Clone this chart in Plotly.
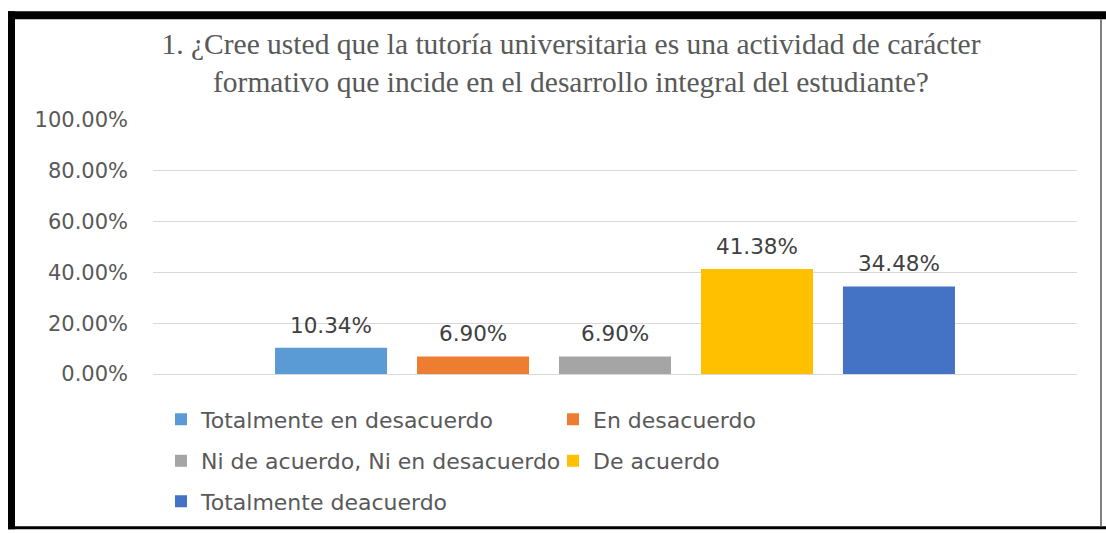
import plotly.graph_objects as go

# ---- data ----
categories = [
    "Totalmente en desacuerdo",
    "En desacuerdo",
    "Ni de acuerdo, Ni en desacuerdo",
    "De acuerdo",
    "Totalmente deacuerdo",
]
values = [0.1034, 0.0690, 0.0690, 0.4138, 0.3448]
colors = ["#5B9BD5", "#ED7D31", "#A5A5A5", "#FFC000", "#4472C4"]
legend_ids = ["legend", "legend", "legend2", "legend2", "legend3"]
y_ticks = [0, 0.2, 0.4, 0.6, 0.8, 1.0]
title_text = ("1. ¿Cree usted que la tutoría universitaria es una actividad de carácter<br>"
              "formativo que incide en el desarrollo integral del estudiante?")

W, H = 1106, 534
ML, MR, MT, MB = 153, 29, 120, 157
PW = W - ML - MR
PH = H - MT - MB


def px_x(px):
    return (px - ML) / PW


def px_y(py):
    return (H - MB - py) / PH


fig = go.Figure()
for name, v, c, lg in zip(categories, values, colors, legend_ids):
    fig.add_trace(go.Bar(
        x=[name], y=[v], name=name, marker=dict(color=c, line=dict(width=0)),
        legend=lg, hoverinfo="x+y",
    ))
    fig.add_annotation(
        x=name, y=v, text=f"{v*100:.2f}%", showarrow=False,
        yanchor="bottom", yshift=8,
        font=dict(family="DejaVu Sans", size=21.5, color="#404040"),
    )

legend_common = dict(
    orientation="h", xanchor="left", yanchor="middle",
    font=dict(family="DejaVu Sans", size=22, color="#595959"),
    bgcolor="rgba(0,0,0,0)", entrywidth=347, entrywidthmode="pixels",
    itemclick=False, itemdoubleclick=False, traceorder="normal",
)

shape_black = dict(type="rect", xref="paper", yref="paper",
                   fillcolor="black", line=dict(width=0), layer="above")

fig.update_layout(
    width=W, height=H,
    margin=dict(l=ML, r=MR, t=MT, b=MB, pad=0),
    paper_bgcolor="white", plot_bgcolor="white",
    barmode="relative", bargap=0.211,
    title=dict(text=title_text, x=571 / W, xref="container", xanchor="center",
               y=1 - 54 / H, yref="container", yanchor="middle",
               font=dict(family="Liberation Serif", size=29.5, color="#595959")),
    xaxis=dict(type="category", categoryorder="array", categoryarray=categories,
               range=[-1.254, 5.254], showticklabels=False, showgrid=False,
               zeroline=False, showline=False, ticks=""),
    yaxis=dict(range=[0, 1.0], tickvals=y_ticks, tickformat=".2%",
               showgrid=True, gridcolor="#D9D9D9", gridwidth=1,
               zeroline=True, zerolinecolor="#D9D9D9", zerolinewidth=1,
               showline=False, ticks="", ticklabelstandoff=24,
               tickfont=dict(family="DejaVu Sans", size=21, color="#595959")),
    legend=dict(x=px_x(161), y=px_y(423), **legend_common),
    legend2=dict(x=px_x(161), y=px_y(465), **legend_common),
    legend3=dict(x=px_x(161), y=px_y(506), **legend_common),
    showlegend=True,
    shapes=[
        dict(shape_black, x0=px_x(8), x1=px_x(1106), y0=px_y(18), y1=px_y(10)),
        dict(shape_black, x0=px_x(8), x1=px_x(15), y0=px_y(534), y1=px_y(10)),
        dict(shape_black, x0=px_x(8), x1=px_x(1106), y0=px_y(534), y1=px_y(531)),
        dict(type="line", xref="paper", yref="paper", x0=px_x(1101), x1=px_x(1101),
             y0=px_y(531), y1=px_y(18), line=dict(color="#808080", width=2), layer="above"),
    ],
)

fig.write_html(
    "out.html",
    config={"displayModeBar": False},
    post_script="document.body.style.margin='0';document.body.style.overflow='hidden';",
)
